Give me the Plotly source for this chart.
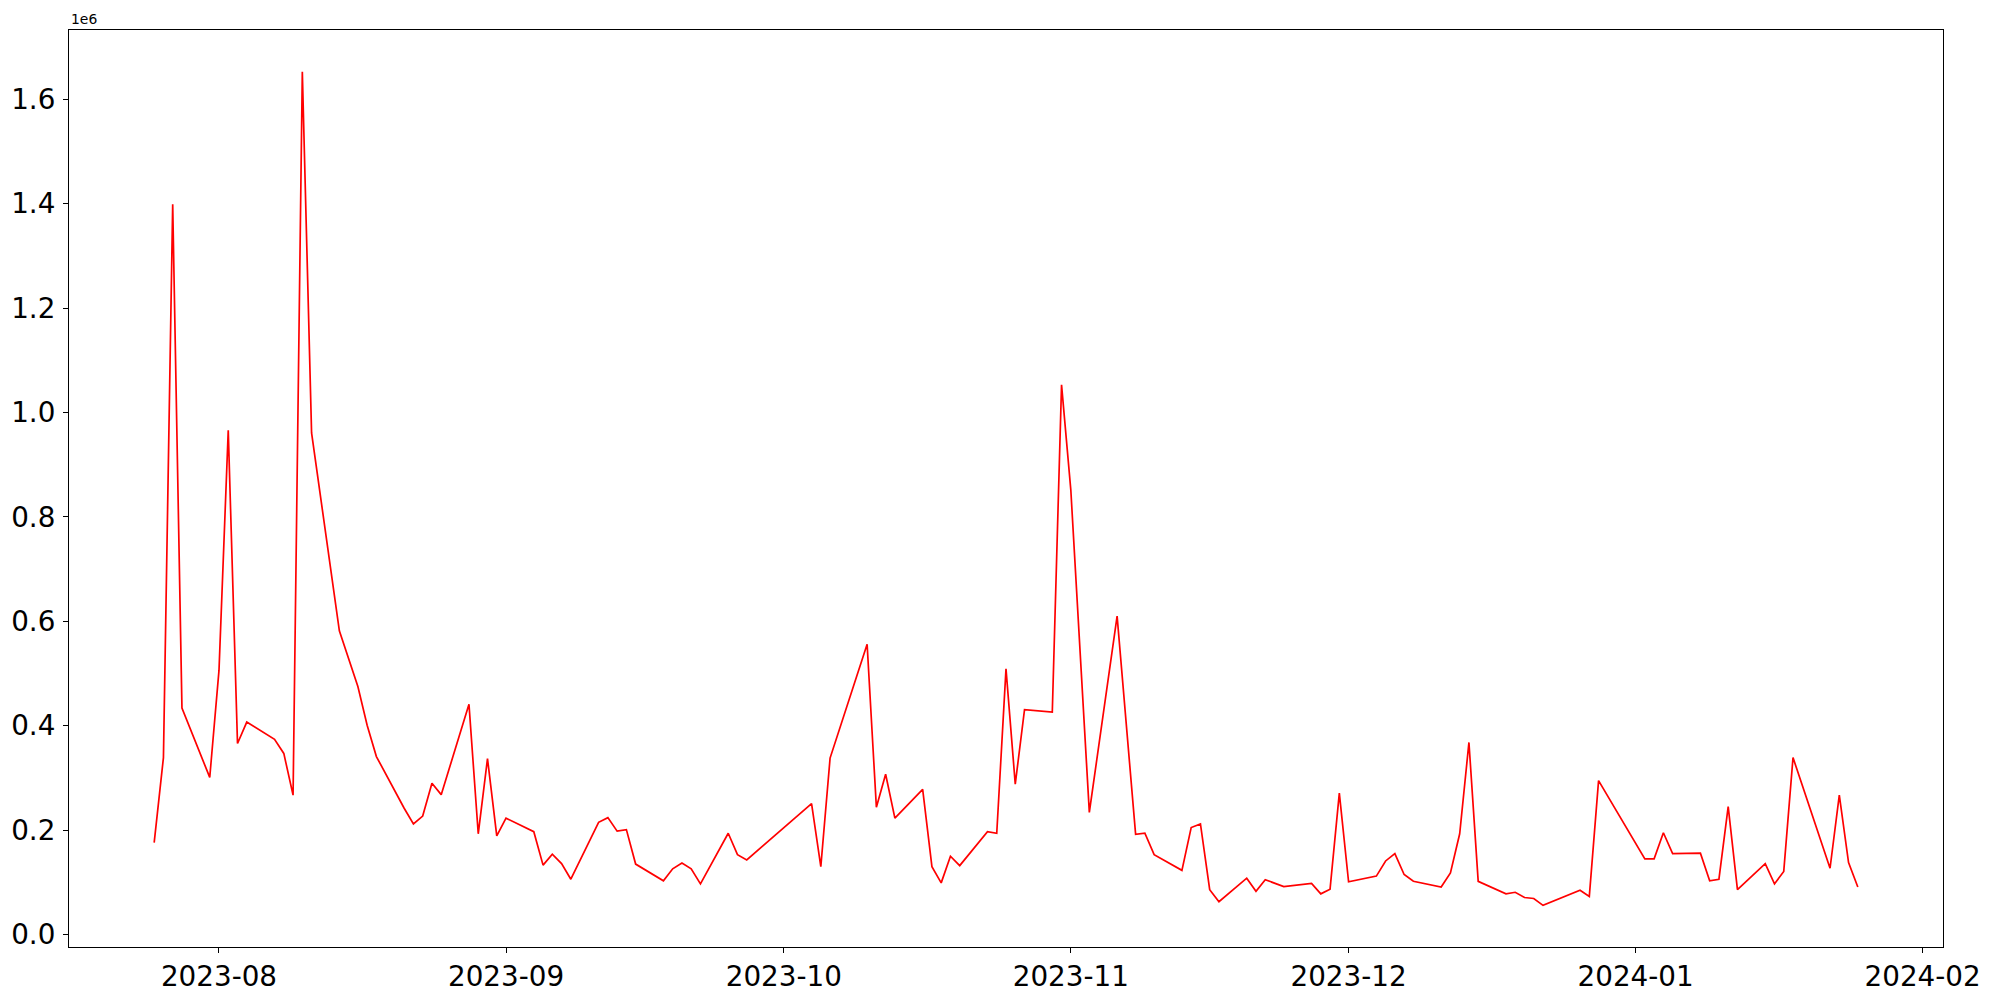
import pandas as pd
import plotly.graph_objects as go

dates = [
    "2023-07-25", "2023-07-26", "2023-07-27", "2023-07-28", "2023-07-31",
    "2023-08-01", "2023-08-02", "2023-08-03", "2023-08-04", "2023-08-07",
    "2023-08-08", "2023-08-09", "2023-08-10", "2023-08-11", "2023-08-14",
    "2023-08-16", "2023-08-17", "2023-08-18", "2023-08-21", "2023-08-22",
    "2023-08-23", "2023-08-24", "2023-08-25", "2023-08-28", "2023-08-29",
    "2023-08-30", "2023-08-31", "2023-09-01", "2023-09-04", "2023-09-05",
    "2023-09-06", "2023-09-07", "2023-09-08", "2023-09-11", "2023-09-12",
    "2023-09-13", "2023-09-14", "2023-09-15", "2023-09-18", "2023-09-19",
    "2023-09-20", "2023-09-21", "2023-09-22", "2023-09-25", "2023-09-26",
    "2023-09-27", "2023-10-04", "2023-10-05", "2023-10-06", "2023-10-10",
    "2023-10-11", "2023-10-12", "2023-10-13", "2023-10-16", "2023-10-17",
    "2023-10-18", "2023-10-19", "2023-10-20", "2023-10-23", "2023-10-24",
    "2023-10-25", "2023-10-26", "2023-10-27", "2023-10-30", "2023-10-31",
    "2023-11-01", "2023-11-03", "2023-11-06", "2023-11-08", "2023-11-09",
    "2023-11-10", "2023-11-13", "2023-11-14", "2023-11-15", "2023-11-16",
    "2023-11-17", "2023-11-20", "2023-11-21", "2023-11-22", "2023-11-24",
    "2023-11-27", "2023-11-28", "2023-11-29", "2023-11-30", "2023-12-01",
    "2023-12-04", "2023-12-05", "2023-12-06", "2023-12-07", "2023-12-08",
    "2023-12-11", "2023-12-12", "2023-12-13", "2023-12-14", "2023-12-15",
    "2023-12-18", "2023-12-19", "2023-12-20", "2023-12-21", "2023-12-22",
    "2023-12-26", "2023-12-27", "2023-12-28", "2024-01-02", "2024-01-03",
    "2024-01-04", "2024-01-05", "2024-01-08", "2024-01-09", "2024-01-10",
    "2024-01-11", "2024-01-12", "2024-01-15", "2024-01-16", "2024-01-17",
    "2024-01-18", "2024-01-22", "2024-01-23", "2024-01-24", "2024-01-25",
]

values = [
    176000, 339000, 1399000, 434000, 301000,
    506000, 966000, 366000, 407000, 374000,
    347000, 267000, 1653000, 961000, 582000,
    475000, 401000, 341000, 242000, 212000,
    227000, 290000, 268000, 441000, 193000,
    337000, 189000, 223000, 197000, 133000,
    154000, 136000, 106000, 215000, 224000,
    198000, 201000, 135000, 103000, 126000,
    137000, 126000, 97000, 194000, 153000,
    143000, 251000, 130000, 338000, 556000,
    244000, 307000, 223000, 278000, 130000,
    99000, 150000, 132000, 197000, 194000,
    509000, 288000, 431000, 426000, 1053000,
    852000, 234000, 610000, 192000, 194000,
    153000, 123000, 205000, 212000, 86000,
    63000, 108000, 83000, 105000, 92000,
    98000, 78000, 87000, 271000, 101000,
    112000, 141000, 155000, 115000, 102000,
    91000, 118000, 193000, 368000, 102000,
    78000, 81000, 71000, 69000, 56000,
    85000, 73000, 295000, 145000, 145000,
    195000, 155000, 156000, 103000, 106000,
    245000, 86000, 136000, 97000, 121000,
    339000, 127000, 267000, 138000, 91000,
]

x_tick_dates = ["2023-08-01", "2023-09-01", "2023-10-01", "2023-11-01",
                "2023-12-01", "2024-01-01", "2024-02-01"]
x_tick_labels = ["2023-08", "2023-09", "2023-10", "2023-11",
                 "2023-12", "2024-01", "2024-02"]
y_tick_vals = [0, 200000, 400000, 600000, 800000, 1000000, 1200000, 1400000, 1600000]
y_tick_labels = ["0.0", "0.2", "0.4", "0.6", "0.8", "1.0", "1.2", "1.4", "1.6"]

FONT = "DejaVu Sans"

x = pd.to_datetime(dates)
xspan = x.max() - x.min()
x_range = [x.min() - 0.05 * xspan, x.max() + 0.05 * xspan]
ymin, ymax = min(values), max(values)
yspan = ymax - ymin
y_range = [ymin - 0.05 * yspan, ymax + 0.05 * yspan]

fig = go.Figure()
fig.add_trace(go.Scatter(
    x=x, y=values, mode="lines",
    line=dict(color="red", width=1.7),
    showlegend=False,
))

axis_common = dict(
    showgrid=False, zeroline=False,
    showline=True, linecolor="black", linewidth=1.1, mirror=True,
    ticks="outside", ticklen=5, tickwidth=1.1, tickcolor="black",
    tickfont=dict(family=FONT, size=27.8, color="black"),
    automargin=False,
)

fig.update_xaxes(
    range=x_range,
    tickmode="array", tickvals=pd.to_datetime(x_tick_dates), ticktext=x_tick_labels,
    **axis_common,
)
fig.update_yaxes(
    range=y_range,
    tickmode="array", tickvals=y_tick_vals, ticktext=y_tick_labels,
    ticklabelstandoff=2,
    **axis_common,
)

fig.add_annotation(
    text="1e6", xref="paper", yref="paper", x=0, y=1,
    xanchor="left", yanchor="bottom", yshift=1, showarrow=False,
    font=dict(family=FONT, size=13.9, color="black"),
)

# page body has an 8px margin, so the figure is offset by 8px
fig.update_layout(
    width=1992, height=992,
    margin=dict(l=61, r=57, t=22, b=53, pad=0),
    paper_bgcolor="white", plot_bgcolor="white",
    font=dict(family=FONT, color="black"),
)

fig.write_html("out.html")
